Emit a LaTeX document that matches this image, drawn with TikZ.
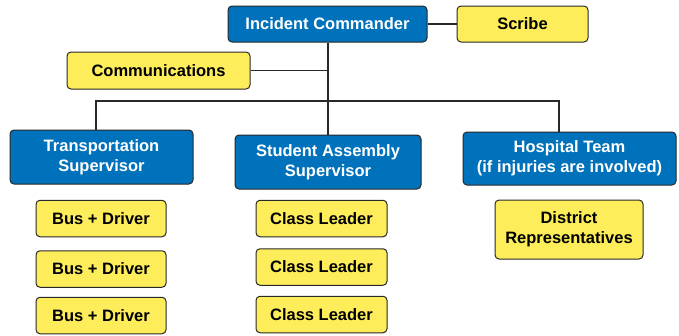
\documentclass[tikz,border=0pt]{standalone}
\usepackage{fontspec}
\setmainfont{Liberation Sans}
\usepackage{tikz}
\usetikzlibrary{positioning}
\definecolor{boxblue}{RGB}{0,114,187}
\definecolor{boxyellow}{RGB}{253,237,90}
\definecolor{edgegray}{RGB}{40,40,40}
\tikzset{
    bluebox/.style={
        rectangle,
        rounded corners=4pt,
        draw=edgegray, line width=1pt,
        fill=boxblue,
        text=white,
        align=center,
        inner sep=0pt
    },
    yellowbox/.style={
        rectangle,
        rounded corners=4pt,
        draw=edgegray, line width=1pt,
        fill=boxyellow,
        text=black,
        align=center,
        inner sep=0pt
    },
    line/.style={draw=edgegray, line width=1.3pt},
    font={\fontsize{16.5pt}{20pt}\selectfont\bfseries},
}

\begin{document}
\begin{tikzpicture}
    [
        x=1pt, y=-1pt,
        bus/.style={yellowbox, minimum width=130pt, minimum height=36.5pt},
        leader/.style={yellowbox, minimum width=131pt, minimum height=36.5pt},
    ]
    \useasboundingbox (0,0) rectangle (679,335);

    \node(cmd)[bluebox, minimum width=199pt, minimum height=36pt] at (327.5,24) {Incident Commander};
    \node(scribe)[yellowbox, minimum width=131pt, minimum height=36pt] at (522.5,24) {Scribe};
    \node(comm)[yellowbox, minimum width=183pt, minimum height=37pt] at (158.5,70.5) {Communications};

    \node(trans)[bluebox, minimum width=183pt, minimum height=54pt] at (101.5,157) {Transportation\\Supervisor};
    \node(student)[bluebox, minimum width=186pt, minimum height=54pt] at (328,162) {Student Assembly\\Supervisor};
    \node(hosp)[bluebox, minimum width=213pt, minimum height=53pt] at (569.5,158.5) {Hospital Team\\(if injuries are involved)};

    \node(bus1)[bus] at (101,218.5) {Bus + Driver};
    \node(bus2)[bus, below=13pt of bus1] {Bus + Driver};
    \node(bus3)[bus, below=9pt of bus2] {Bus + Driver};

    \node(lead1)[leader] at (321.5,218.5) {Class Leader};
    \node(lead2)[leader, below=11pt of lead1] {Class Leader};
    \node(lead3)[leader, below=10pt of lead2] {Class Leader};

    \node(district)[yellowbox, minimum width=148pt, minimum height=59pt] at (569,229.5) {District\\Representatives};

    \coordinate(busL) at (96,101);
    \coordinate(busR) at (559,101);
    \draw[line] (cmd.east) -- (scribe.west);
    \draw[line] (cmd.south -| student.north) -- (student.north);
    \draw[line] (comm.east) -- (comm.east -| student.north);
    \draw[line] (trans.north -| busL) -- (busL) -- (busR) -- (hosp.north -| busR);
\end{tikzpicture}
\end{document}
